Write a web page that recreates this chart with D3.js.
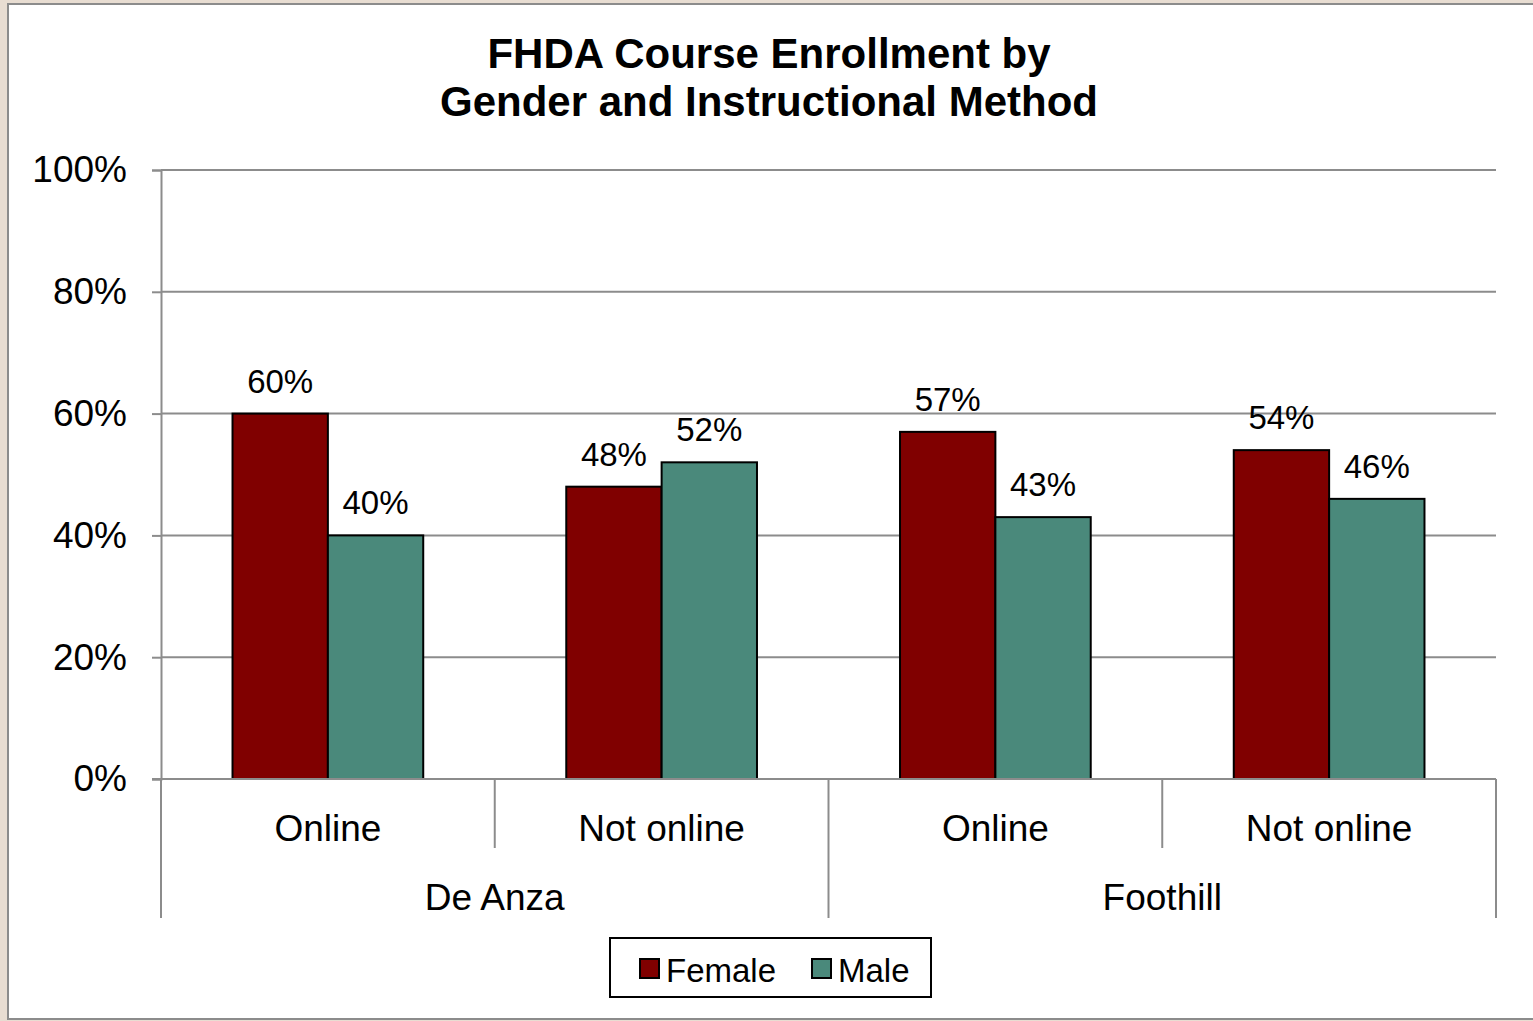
<!DOCTYPE html>
<html>
<head>
<meta charset="utf-8">
<script src="https://cdn.jsdelivr.net/npm/d3@7"></script>
<style>
  html, body { margin: 0; padding: 0; background: #e8ddd2; }
  svg { display: block; }
  text { font-family: "Liberation Sans", Arial, sans-serif; fill: #000; }
</style>
</head>
<body>
<svg width="1533" height="1021"></svg>
<script>
// chart data
const colleges = ['De Anza', 'Foothill'];
const methods = ['Online', 'Not online'];
const seriesNames = ['Female', 'Male'];
const female = [60, 48, 57, 54];
const male = [40, 52, 43, 46];
const yTicks = [0, 20, 40, 60, 80, 100];

const colors = ['#800000', '#4a897b'];
const gridColor = '#8c8c8c';

const svg = d3.select('svg');

// frame
svg.append('rect')
    .attr('x', 8).attr('y', 4)
    .attr('width', 1540).attr('height', 1015)
    .style('fill', '#fff')
    .style('stroke', gridColor)
    .style('stroke-width', 2);

// title
const title = svg.append('text')
    .attr('text-anchor', 'middle')
    .style('font-size', '42px')
    .style('font-weight', 'bold');
title.append('tspan').attr('x', 769).attr('y', 68).text('FHDA Course Enrollment by');
title.append('tspan').attr('x', 769).attr('y', 116).text('Gender and Instructional Method');

const plotLeft = 161, plotRight = 1496, plotTop = 170, plotBottom = 779;

// one cell per college / method pair
let cells = [];
colleges.forEach(function (c) {
    methods.forEach(function (m) {
        cells.push({college: c, method: m});
    });
});
cells.forEach(function (d, i) {
    d.values = [female[i], male[i]];
});

let x0 = d3.scaleBand()
    .domain(cells.map(function (d, i) { return i; }))
    .range([plotLeft, plotRight]);

let x1 = d3.scaleBand()
    .domain(seriesNames)
    .range([0, x0.bandwidth()])
    .paddingInner(0)
    .paddingOuter(0.75);

let yScale = d3.scaleLinear().domain([0, 100]).range([plotBottom, plotTop]);

// gridlines
svg.append('g')
    .selectAll('line')
    .data(yTicks.filter(function (d) { return d > 0; }))
    .enter()
    .append('line')
    .attr('x1', plotLeft).attr('x2', plotRight)
    .attr('y1', function (d) { return yScale(d); })
    .attr('y2', function (d) { return yScale(d); })
    .style('stroke', gridColor)
    .style('stroke-width', 2);

// y axis
let yAxis = d3.axisLeft(yScale)
    .tickValues(yTicks)
    .tickFormat(function (d) { return d + '%'; })
    .tickSize(9)
    .tickPadding(25);

let gy = svg.append('g')
    .attr('transform', 'translate(' + plotLeft + ',0)')
    .call(yAxis);
gy.select('.domain').style('stroke', gridColor).style('stroke-width', 2);
gy.selectAll('.tick line').style('stroke', gridColor).style('stroke-width', 2);
gy.selectAll('.tick text')
    .style('font-size', '37px')
    .style('font-family', '"Liberation Sans", Arial, sans-serif')
    .attr('fill', '#000');

// bars
let groups = svg.append('g')
    .selectAll('g')
    .data(cells)
    .enter()
    .append('g')
    .attr('transform', function (d, i) { return 'translate(' + x0(i) + ',0)'; });

groups.selectAll('rect')
    .data(function (d) { return d.values; })
    .enter()
    .append('rect')
    .attr('x', function (d, i) { return x1(seriesNames[i]); })
    .attr('y', function (d) { return yScale(d); })
    .attr('width', x1.bandwidth())
    .attr('height', function (d) { return yScale(0) - yScale(d); })
    .style('fill', function (d, i) { return colors[i]; })
    .style('stroke', '#000')
    .style('stroke-width', 2);

groups.selectAll('text.val')
    .data(function (d) { return d.values; })
    .enter()
    .append('text')
    .attr('class', 'val')
    .attr('text-anchor', 'middle')
    .attr('x', function (d, i) { return x1(seriesNames[i]) + x1.bandwidth() / 2; })
    .attr('y', function (d) { return yScale(d) - 21; })
    .style('font-size', '33px')
    .text(function (d) { return d + '%'; });

// category axis
let gx = svg.append('g');
gx.append('line')
    .attr('x1', plotLeft - 9).attr('x2', plotRight)
    .attr('y1', plotBottom).attr('y2', plotBottom)
    .style('stroke', gridColor).style('stroke-width', 2);

// separators between cells, long ones between colleges
let seps = d3.range(cells.length + 1);
gx.selectAll('line.sep')
    .data(seps)
    .enter()
    .append('line')
    .attr('class', 'sep')
    .attr('x1', function (i) { return i < cells.length ? x0(i) : plotRight; })
    .attr('x2', function (i) { return i < cells.length ? x0(i) : plotRight; })
    .attr('y1', plotBottom)
    .attr('y2', function (i) { return i % methods.length === 0 ? 918 : 848; })
    .style('stroke', gridColor).style('stroke-width', 2);

gx.selectAll('text.method')
    .data(cells)
    .enter()
    .append('text')
    .attr('class', 'method')
    .attr('text-anchor', 'middle')
    .attr('x', function (d, i) { return x0(i) + x0.bandwidth() / 2; })
    .attr('y', 841)
    .style('font-size', '37px')
    .text(function (d) { return d.method; });

gx.selectAll('text.college')
    .data(colleges)
    .enter()
    .append('text')
    .attr('class', 'college')
    .attr('text-anchor', 'middle')
    .attr('x', function (d, i) { return x0(i * methods.length) + x0.bandwidth() * methods.length / 2; })
    .attr('y', 910)
    .style('font-size', '37px')
    .text(function (d) { return d; });

// legend
let legend = svg.append('g');
legend.append('rect')
    .attr('x', 610).attr('y', 938)
    .attr('width', 321).attr('height', 59)
    .style('fill', '#fff')
    .style('stroke', '#000')
    .style('stroke-width', 2);

let legendX = [640, 812];
let items = legend.selectAll('g')
    .data(seriesNames)
    .enter()
    .append('g')
    .attr('transform', function (d, i) { return 'translate(' + legendX[i] + ',959)'; });
items.append('rect')
    .attr('width', 19).attr('height', 19)
    .style('fill', function (d, i) { return colors[i]; })
    .style('stroke', '#000')
    .style('stroke-width', 2);
items.append('text')
    .attr('x', 26).attr('y', 23)
    .style('font-size', '33px')
    .text(function (d) { return d; });
</script>
</body>
</html>
